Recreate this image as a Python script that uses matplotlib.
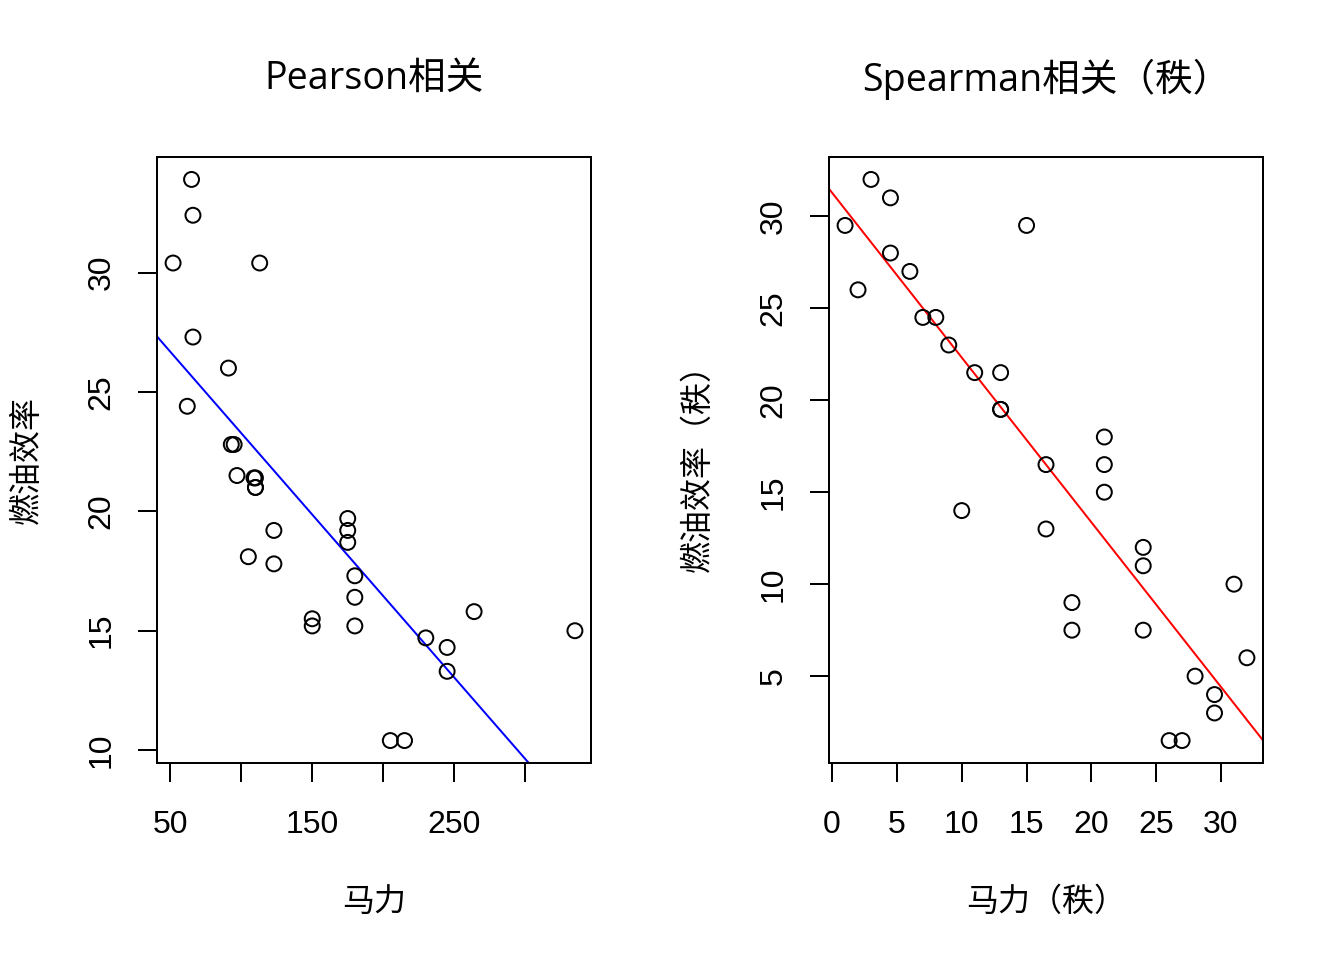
import numpy as np
import matplotlib
matplotlib.use("Agg")
import matplotlib.pyplot as plt

# mtcars: horsepower and miles per gallon
hp = [110, 110, 93, 110, 175, 105, 245, 62, 95, 123, 123, 180, 180, 180, 205, 215,
      230, 66, 52, 65, 97, 150, 150, 245, 175, 66, 91, 113, 264, 175, 335, 109]
mpg = [21.0, 21.0, 22.8, 21.4, 18.7, 18.1, 14.3, 24.4, 22.8, 19.2, 17.8, 16.4, 17.3,
       15.2, 10.4, 10.4, 14.7, 32.4, 30.4, 33.9, 21.5, 15.5, 15.2, 13.3, 19.2, 27.3,
       26.0, 30.4, 15.8, 19.7, 15.0, 21.4]
hp_rank = [13, 13, 7, 13, 21, 10, 29.5, 2, 8, 16.5, 16.5, 24, 24, 24, 26, 27,
           28, 4.5, 1, 3, 9, 18.5, 18.5, 29.5, 21, 4.5, 6, 15, 31, 21, 32, 11]
mpg_rank = [19.5, 19.5, 24.5, 21.5, 15, 14, 4, 26, 24.5, 16.5, 13, 11, 12,
            7.5, 1.5, 1.5, 5, 31, 29.5, 32, 23, 9, 7.5, 3, 16.5, 28,
            27, 29.5, 10, 18, 6, 21.5]

titles = ["Pearson相关", "Spearman相关（秩）"]
xlabels = ["马力", "马力（秩）"]
ylabels = ["燃油效率", "燃油效率（秩）"]
left_xticks = [50, 100, 150, 200, 250, 300]
left_xticklabels = ["50", "", "150", "", "250", ""]
left_yticks = [10, 15, 20, 25, 30]
right_xticks = [0, 5, 10, 15, 20, 25, 30]
right_yticks = [5, 10, 15, 20, 25, 30]

W, H = 1344, 960
fig = plt.figure(figsize=(W / 192, H / 192), dpi=192)

cjk = ["Open Sans", "Noto Sans CJK SC", "DejaVu Sans"]
tickfont = "Liberation Sans"
lw = 0.75


def rlim(v):
    lo, hi = min(v), max(v)
    d = (hi - lo) * 0.04
    return lo - d, hi + d


def make(ax, x, y, color, title, xl, yl, xt, xtl, yt):
    ax.scatter(x, y, s=5.6 ** 2, facecolors="none", edgecolors="black", linewidths=lw, zorder=3)
    m, b = np.polyfit(x, y, 1)
    ax.axline((0, b), slope=m, color=color, lw=lw, zorder=2)
    ax.set_xlim(*rlim(x))
    ax.set_ylim(*rlim(y))
    ax.set_xticks(xt)
    ax.set_xticklabels(xtl, fontfamily=tickfont, fontsize=12)
    ax.set_yticks(yt)
    ax.set_yticklabels([str(v) for v in yt], fontfamily=tickfont, fontsize=12,
                       rotation=90, va="center")
    ax.tick_params(axis="both", length=7.2, width=lw, direction="out", color="black")
    ax.tick_params(axis="x", pad=10.5)
    ax.tick_params(axis="y", pad=8)
    for s in ax.spines.values():
        s.set_linewidth(lw)
    ax.set_title(title, family=cjk, fontsize=14.1, y=(763 - 79) / 606, va="center", pad=0)
    ax.set_xlabel(xl, family=cjk, fontsize=12)
    ax.xaxis.set_label_coords(0.5, -(902 - 763) / 606)
    ax.xaxis.label.set_va("center")
    ax.set_ylabel(yl, family=cjk, fontsize=12)
    ax.yaxis.label.set_va("center")


ax1 = fig.add_axes([157 / W, 1 - 763 / H, 434 / W, 606 / H])
ax2 = fig.add_axes([829 / W, 1 - 763 / H, 434 / W, 606 / H])

make(ax1, hp, mpg, "blue", titles[0], xlabels[0], ylabels[0],
     left_xticks, left_xticklabels, left_yticks)
ax1.yaxis.set_label_coords((27 - 157) / 434, 0.5)

make(ax2, hp_rank, mpg_rank, "red", titles[1], xlabels[1], ylabels[1],
     right_xticks, [str(v) for v in right_xticks], right_yticks)
ax2.yaxis.set_label_coords((698 - 829) / 434, 0.5)

fig.savefig("out.png", dpi=192, facecolor="white")
